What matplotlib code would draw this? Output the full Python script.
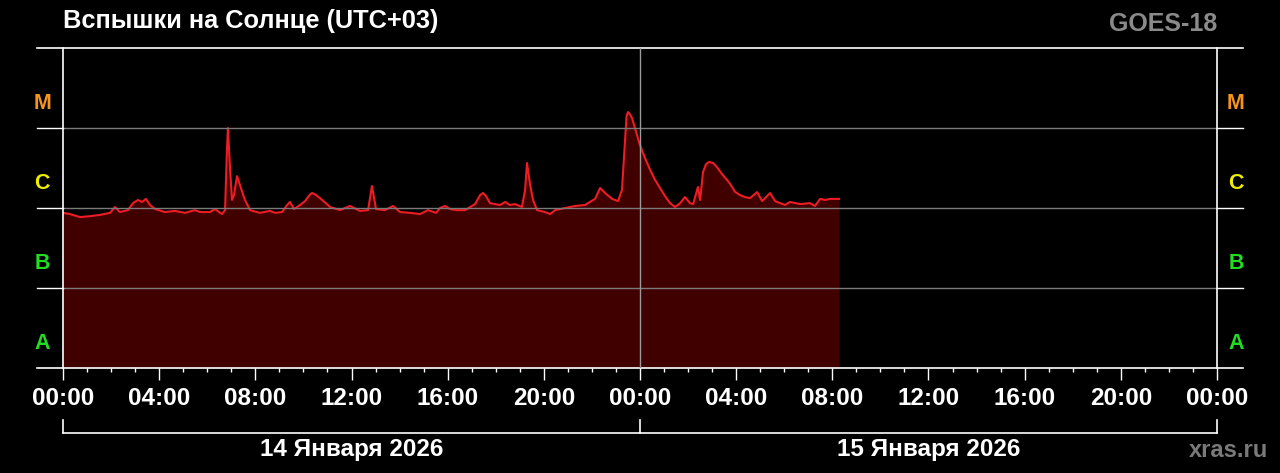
import matplotlib
matplotlib.use('Agg')
import matplotlib.pyplot as plt

plt.rcParams['font.family'] = ['Liberation Sans', 'DejaVu Sans']

# time in hours from 14 Jan 00:00 (UTC+03), X-ray flux in W/m^2
hours = [0.00, 0.29, 0.71, 1.12, 1.54, 1.96, 2.16, 2.37, 2.70, 2.91, 3.12, 3.29, 3.45, 3.62,
         3.83, 4.24, 4.66, 5.07, 5.49, 5.70, 6.11, 6.32, 6.61, 6.74, 6.82, 6.86, 6.95, 7.03,
         7.11, 7.24, 7.40, 7.57, 7.78, 8.19, 8.61, 8.82, 9.11, 9.32, 9.44, 9.61, 9.86, 10.07,
         10.25, 10.36, 10.50, 10.69, 11.11, 11.52, 11.94, 12.35, 12.69, 12.85, 13.02, 13.39, 13.73, 14.02,
         14.43, 14.85, 15.18, 15.52, 15.68, 15.89, 16.10, 16.39, 16.72, 17.14, 17.35, 17.47, 17.60, 17.76,
         18.18, 18.39, 18.59, 18.80, 19.09, 19.22, 19.30, 19.43, 19.55, 19.72, 20.05, 20.26,
         20.47, 20.88, 21.30, 21.71, 22.13, 22.34, 22.55, 22.84, 23.09, 23.25, 23.38, 23.44, 23.50,
         23.56, 23.67, 23.84, 24.00, 24.21, 24.42, 24.63, 24.83, 25.04, 25.25, 25.46, 25.67, 25.87,
         26.08, 26.21, 26.41, 26.50, 26.62, 26.75, 26.87, 27.04, 27.20, 27.41, 27.62, 27.75, 27.95,
         28.16, 28.37, 28.58, 28.87, 29.08, 29.41, 29.62, 30.03, 30.24, 30.66, 31.07, 31.28, 31.49,
         31.70, 31.91, 32.28]
flux = [8.7e-7, 8.4e-7, 7.7e-7, 7.9e-7, 8.2e-7, 8.7e-7, 1.03e-6, 8.9e-7, 9.4e-7, 1.15e-6,
        1.26e-6, 1.19e-6, 1.30e-6, 1.09e-6, 9.7e-7, 8.9e-7, 9.2e-7, 8.7e-7, 9.4e-7, 8.9e-7,
        8.9e-7, 9.7e-7, 8.4e-7, 9.4e-7, 5.3e-6, 1.0e-5, 3.0e-6, 1.26e-6, 1.45e-6, 2.5e-6,
        1.78e-6, 1.26e-6, 9.4e-7, 8.7e-7, 9.2e-7, 8.7e-7, 8.9e-7, 1.09e-6, 1.19e-6, 9.7e-7,
        1.09e-6, 1.22e-6, 1.45e-6, 1.54e-6, 1.47e-6, 1.33e-6, 1.03e-6, 9.4e-7, 1.06e-6, 9.2e-7, 9.4e-7, 1.88e-6,
        9.7e-7, 9.4e-7, 1.06e-6, 8.9e-7, 8.7e-7, 8.4e-7, 9.4e-7, 8.7e-7, 1.0e-6, 1.06e-6,
        9.7e-7, 9.4e-7, 9.4e-7, 1.12e-6, 1.45e-6, 1.54e-6, 1.40e-6, 1.15e-6, 1.09e-6, 1.19e-6,
        1.09e-6, 1.12e-6, 1.03e-6, 1.68e-6, 3.65e-6, 1.94e-6, 1.26e-6, 9.4e-7, 8.9e-7, 8.4e-7,
        9.4e-7, 1.0e-6, 1.06e-6, 1.09e-6, 1.30e-6, 1.78e-6, 1.54e-6, 1.30e-6, 1.22e-6, 1.68e-6,
        7.1e-6, 1.40e-5, 1.58e-5, 1.52e-5, 1.33e-5, 8.9e-6, 6.1e-6, 4.2e-6, 3.0e-6, 2.24e-6,
        1.78e-6, 1.41e-6, 1.15e-6, 1.03e-6, 1.15e-6, 1.37e-6, 1.15e-6, 1.12e-6, 1.83e-6, 1.26e-6,
        2.8e-6, 3.55e-6, 3.76e-6, 3.65e-6, 3.25e-6, 2.66e-6, 2.24e-6, 2.0e-6, 1.6e-6,
        1.45e-6, 1.37e-6, 1.33e-6, 1.58e-6, 1.22e-6, 1.54e-6, 1.22e-6, 1.09e-6, 1.19e-6, 1.12e-6,
        1.15e-6, 1.06e-6, 1.30e-6, 1.26e-6, 1.30e-6, 1.30e-6]

class_names = ['A', 'B', 'C', 'M']
class_levels = [2e-8, 2e-7, 2e-6, 2e-5]
class_colors = ['#22dd22', '#22dd22', '#eeee00', '#f7941d']
tick_labels = ['00:00', '04:00', '08:00', '12:00', '16:00', '20:00', '00:00',
               '04:00', '08:00', '12:00', '16:00', '20:00', '00:00']
day_labels = ['14 Января 2026', '15 Января 2026']

fig = plt.figure(figsize=(12.8, 4.73), dpi=100, facecolor='black')
ax = fig.add_axes([63 / 1280, 1 - 368 / 473, (1217 - 63) / 1280, 320 / 473])
ax.set_facecolor('black')
ax.set_yscale('log')
ax.set_xlim(0, 48)
ax.set_ylim(1e-8, 1e-4)
for s in ax.spines.values():
    s.set_visible(False)

ax.fill_between(hours, flux, 1e-8, color='#400000', lw=0)
ax.plot(hours, flux, color='#ee1c24', lw=1.5)

ext = 26 / 24.04
# grid lines (gray inside, white stubs outside)
for lvl in [1e-7, 1e-6, 1e-5]:
    ax.plot([0, 48], [lvl, lvl], color='#7a7a7a', lw=1)
    ax.plot([-ext, 0], [lvl, lvl], color='white', lw=1, clip_on=False)
    ax.plot([48, 48 + ext], [lvl, lvl], color='white', lw=1, clip_on=False)
for lvl in [1e-8, 1e-4]:
    ax.plot([-ext, 48 + ext], [lvl, lvl], color='white', lw=1.2, clip_on=False)
ax.plot([0, 0], [1e-8, 1e-4], color='white', lw=1.2, clip_on=False)
ax.plot([48, 48], [1e-8, 1e-4], color='white', lw=1.2, clip_on=False)
ax.plot([24, 24], [1e-8, 1e-4], color='#9a9a9a', lw=1)

ax.set_xticks(range(0, 49, 4))
ax.set_xticklabels(tick_labels)
ax.set_xticks(range(0, 49), minor=True)
ax.set_yticks([])
ax.set_yticks([], minor=True)
ax.tick_params(axis='x', which='major', direction='out', length=8.6, width=1,
               color='white', labelcolor='white', labelsize=17.5, pad=5)
ax.tick_params(axis='x', which='minor', direction='out', length=3, width=1, color='white')
for lab in ax.get_xticklabels():
    lab.set_fontweight('bold')

# class letters on both sides
for name, lvl, col in zip(class_names, class_levels, class_colors):
    ax.text(-0.018, lvl, name, transform=ax.get_yaxis_transform(), ha='center', va='center',
            color=col, fontsize=15.5, fontweight='bold')
    ax.text(1.0165, lvl, name, transform=ax.get_yaxis_transform(), ha='center', va='center',
            color=col, fontsize=15.5, fontweight='bold')

# day bracket below the time labels
tr = ax.get_xaxis_transform()
yb = (368 - 433) / 320
yt = (368 - 420) / 320
ax.plot([0, 48], [yb, yb], color='white', lw=1.2, transform=tr, clip_on=False)
for xv in [0, 24, 48]:
    ax.plot([xv, xv], [yb, yt], color='white', lw=1.2, transform=tr, clip_on=False)
for xv, txt in zip([12, 36], day_labels):
    ax.text(xv, (368 - 449) / 320, txt, transform=tr, ha='center', va='center',
            color='white', fontsize=17.5, fontweight='bold')

fig.text(63 / 1280, 1 - 21 / 473, 'Вспышки на Солнце (UTC+03)', ha='left', va='center',
         color='white', fontsize=18.3, fontweight='bold')
fig.text(1217 / 1280, 1 - 24 / 473, 'GOES-18', ha='right', va='center',
         color='#8a8a8a', fontsize=18, fontweight='bold')
fig.text(1268 / 1280, 1 - 450 / 473, 'xras.ru', ha='right', va='center',
         color='#7a7a7a', fontsize=17, fontweight='bold')

fig.savefig('out.png', dpi=100, facecolor='black')
